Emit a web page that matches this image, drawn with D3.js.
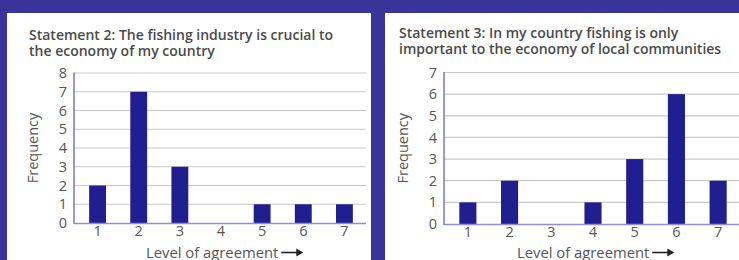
<!DOCTYPE html>
<html><head><meta charset="utf-8">
<script src="https://cdn.jsdelivr.net/npm/d3@7"></script>
<style>
html,body{margin:0;padding:0;background:#38349a;}
svg{display:block;}
</style></head>
<body>
<svg id="c" width="739" height="260"></svg>
<script>
const categories = ["1","2","3","4","5","6","7"];
const statement2Values = [2, 7, 3, 0, 1, 1, 1];
const statement3Values = [1, 2, 0, 1, 3, 6, 2];
const statement2Ticks = [0,1,2,3,4,5,6,7,8];
const statement3Ticks = [0,1,2,3,4,5,6,7];
const titles2 = ["Statement 2: The fishing industry is crucial to", "the economy of my country"];
const titles3 = ["Statement 3: In my country fishing is only", "important to the economy of local communities"];
const yLabel = "Frequency";
const xLabel = "Level of agreement";

const svg = d3.select("#c");
svg.append("rect").attr("width",739).attr("height",260).attr("fill","#38349a");

function panel(cfg){
  const g = svg.append("g");
  g.append("rect").attr("x",cfg.px).attr("y",13).attr("width",cfg.pw).attr("height",247).attr("fill","#fff");
  const t = g.append("text").attr("fill","#4a4a4a").attr("font-family","'Open Sans'")
    .attr("font-weight",600).attr("font-size",14);
  cfg.title.forEach((s,i)=>t.append("tspan").attr("x",cfg.tx).attr("y",cfg.ty+i*16).text(s));
  const x = d3.scaleBand().domain(categories).range([cfg.x0,cfg.x1]).paddingInner(0.59).paddingOuter(0.295);
  const y = d3.scaleLinear().domain([0, d3.max(cfg.ticks)]).range([cfg.y0,cfg.y1]);
  g.append("g").selectAll("line").data(cfg.ticks.filter(d=>d>0)).join("line")
    .attr("x1",cfg.ax).attr("x2",cfg.gx).attr("y1",d=>y(d)).attr("y2",d=>y(d))
    .attr("stroke","#c9c9c9").attr("stroke-width",1.2);
  g.append("g").selectAll("rect").data(cfg.values).join("rect")
    .attr("x",(d,i)=>x(categories[i])).attr("width",x.bandwidth())
    .attr("y",d=>y(d)).attr("height",d=>y(0)-y(d)).attr("fill","#211e8f");
  const ya = d3.axisLeft(y).tickValues(cfg.ticks).tickSize(0).tickPadding(7).tickFormat(d3.format("d"));
  const yg = g.append("g").attr("transform",`translate(${cfg.ax},0)`).call(ya);
  const xa = d3.axisBottom(x).tickSize(0).tickPadding(3);
  const xg = g.append("g").attr("transform",`translate(0,${cfg.y0})`).call(xa);
  [yg,xg].forEach(a=>{
    a.attr("font-size",null).attr("font-family",null);
    a.select(".domain").remove();
    a.selectAll("text").attr("fill","#555").style("font-family","'Open Sans'").style("font-size","14.5px");
  });
  g.append("line").attr("x1",cfg.ax).attr("x2",cfg.ax).attr("y1",cfg.y1-0.5).attr("y2",cfg.y0+1)
    .attr("stroke","#7f7cdc").attr("stroke-width",1.6);
  g.append("line").attr("x1",cfg.ax).attr("x2",cfg.gx).attr("y1",cfg.y0+0.5).attr("y2",cfg.y0+0.5)
    .attr("stroke","#8f8ce0").attr("stroke-width",1.6);
  g.append("text").attr("transform",`translate(${cfg.ylx},${(cfg.y0+cfg.y1)/2}) rotate(-90)`)
    .attr("text-anchor","middle").attr("fill","#555").style("font-family","'Open Sans'")
    .style("font-size","14.5px").text(yLabel);
  const xl = g.append("text").attr("x",cfg.xlx).attr("y",257.5).attr("fill","#555")
    .style("font-family","'Open Sans'").style("font-size","14.8px").text(xLabel);
  const w = xl.node().getComputedTextLength();
  const ax0 = cfg.xlx + w + 3, ax1 = ax0 + 22;
  g.append("line").attr("x1",ax0).attr("x2",ax1-5).attr("y1",252.5).attr("y2",252.5).attr("stroke","#222").attr("stroke-width",1.6);
  g.append("path").attr("d",`M${ax1-7},248.5 L${ax1},252.5 L${ax1-7},256.5 Z`).attr("fill","#222");
}

panel({px:7,pw:364,tx:29,ty:40,title:titles2,values:statement2Values,ticks:statement2Ticks,
  x0:77,x1:365,ax:74,gx:366,y0:223,y1:73,ylx:38,xlx:146});
panel({px:385,pw:354,tx:399,ty:38,title:titles3,values:statement3Values,ticks:statement3Ticks,
  x0:447,x1:739,ax:444,gx:739,y0:224,y1:72.5,ylx:408,xlx:517});
</script>
</body></html>
